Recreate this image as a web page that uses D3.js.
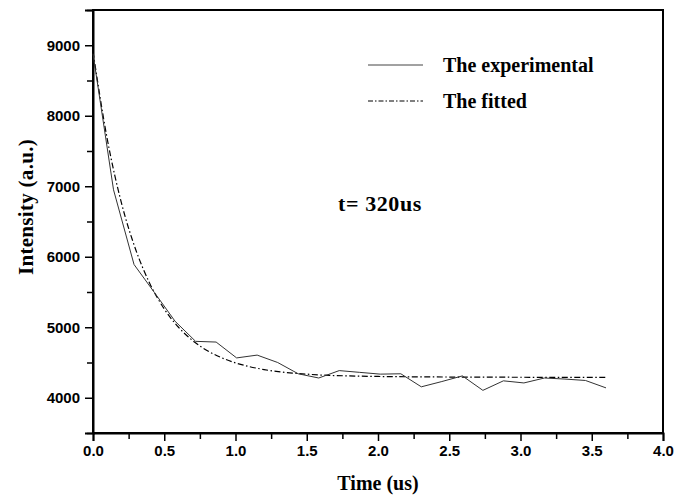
<!DOCTYPE html>
<html>
<head>
<meta charset="utf-8">
<script src="https://cdn.jsdelivr.net/npm/d3@7"></script>
<style>
body { margin: 0; background: #fff; }
svg { display: block; }
</style>
</head>
<body>
<svg id="chart" width="688" height="496"></svg>
<script>
// experimental decay
let expTime = [0.000, 0.144, 0.288, 0.432, 0.576, 0.720, 0.864, 1.008, 1.152, 1.296, 1.440, 1.584, 1.728,
    1.872, 2.016, 2.160, 2.304, 2.448, 2.592, 2.736, 2.880, 3.024, 3.168, 3.312, 3.456, 3.600];
let expValues = [8880, 6950, 5890, 5490, 5085, 4800, 4790, 4565, 4605, 4500, 4340, 4280, 4385,
    4360, 4335, 4340, 4155, 4230, 4310, 4105, 4240, 4210, 4280, 4265, 4245, 4140];

// fitted curve
let fitTime = [0, 0.1, 0.2, 0.3, 0.4, 0.5, 0.6, 0.7, 0.8, 0.9, 1.0, 1.1, 1.2, 1.3, 1.4, 1.5, 1.6,
    1.8, 2.0, 2.4, 2.8, 3.2, 3.6];
let fitValues = [8910, 7670, 6760, 6100, 5615, 5260, 5000, 4810, 4670, 4570, 4495, 4440, 4400, 4370, 4350, 4335, 4322,
    4310, 4302, 4295, 4292, 4290, 4290];

let xTicks = [0, 0.5, 1.0, 1.5, 2.0, 2.5, 3.0, 3.5, 4.0];
let yTicks = [4000, 5000, 6000, 7000, 8000, 9000];
let legendNames = ["The experimental", "The fitted"];

let plotLeft = 93, plotTop = 10, plotRight = 663, plotBottom = 433;
let serif = "'Liberation Serif', 'Times New Roman', serif";
let sans = "'Liberation Sans', Arial, sans-serif";

let svg = d3.select("#chart");

let xScale = d3.scaleLinear()
    .domain([0, 4])
    .range([plotLeft, plotRight]);

let yScale = d3.scaleLinear()
    .domain([3500, 9500])
    .range([plotBottom, plotTop]);

// frame
svg.append("rect")
    .attr("x", plotLeft)
    .attr("y", plotTop)
    .attr("width", plotRight - plotLeft)
    .attr("height", plotBottom - plotTop)
    .style("fill", "none")
    .style("stroke", "#000")
    .style("stroke-width", 2);

// x axis, major then minor ticks
let xAxis = svg.append("g")
    .attr("transform", "translate(0," + plotBottom + ")")
    .call(d3.axisBottom(xScale).tickValues(xTicks).tickSize(8).tickPadding(4)
        .tickFormat(d3.format(".1f")));

svg.append("g")
    .attr("transform", "translate(0," + plotBottom + ")")
    .call(d3.axisBottom(xScale).tickValues(d3.range(0.25, 4, 0.5)).tickSize(6).tickFormat(""))
    .select(".domain").remove();

// y axis
let yAxis = svg.append("g")
    .attr("transform", "translate(" + plotLeft + ",0)")
    .call(d3.axisLeft(yScale).tickValues(yTicks).tickSize(8).tickPadding(5).tickFormat(d3.format("d")));

svg.append("g")
    .attr("transform", "translate(" + plotLeft + ",0)")
    .call(d3.axisLeft(yScale).tickValues([3500, 4500, 5500, 6500, 7500, 8500, 9500]).tickSize(6).tickFormat(""))
    .select(".domain").remove();

svg.selectAll(".domain").style("stroke-width", 2);
svg.selectAll(".tick line").style("stroke-width", 1.5);

xAxis.selectAll("text")
    .style("font-family", sans)
    .style("font-weight", "bold")
    .style("font-size", "15px")
    .style("fill", "#000");

yAxis.selectAll("text")
    .style("font-family", sans)
    .style("font-weight", "bold")
    .style("font-size", "15px")
    .style("fill", "#000");

// axis titles
svg.append("text")
    .attr("x", (plotLeft + plotRight) / 2)
    .attr("y", 490)
    .style("text-anchor", "middle")
    .style("font-family", serif)
    .style("font-weight", "bold")
    .style("font-size", "20px")
    .text("Time (us)");

svg.append("text")
    .attr("transform", "translate(33,207) rotate(-90)")
    .style("text-anchor", "middle")
    .style("font-family", serif)
    .style("font-weight", "bold")
    .style("font-size", "21px")
    .style("letter-spacing", "0.3px")
    .text("Intensity (a.u.)");

// lines
let expLine = d3.line()
    .x((d, i) => xScale(expTime[i]))
    .y(d => yScale(d));

let fitLine = d3.line()
    .x((d, i) => xScale(fitTime[i]))
    .y(d => yScale(d))
    .curve(d3.curveMonotoneX);

svg.append("path")
    .attr("d", fitLine(fitValues))
    .style("fill", "none")
    .style("stroke", "#000")
    .style("stroke-width", 1.2)
    .style("stroke-dasharray", "6,2.5,1.5,2.5");

svg.append("path")
    .attr("d", expLine(expValues))
    .style("fill", "none")
    .style("stroke", "#333")
    .style("stroke-width", 1);

// legend
let legend = svg.append("g");
legendNames.forEach((name, i) => {
    let ly = 65 + i * 36;
    legend.append("line")
        .attr("x1", 368)
        .attr("x2", 423)
        .attr("y1", ly)
        .attr("y2", ly)
        .style("stroke", i == 0 ? "#444" : "#000")
        .style("stroke-width", 1)
        .style("stroke-dasharray", i == 0 ? null : "5,2,1.5,2");
    legend.append("text")
        .attr("x", 443)
        .attr("y", ly + 7)
        .style("font-family", serif)
        .style("font-weight", "bold")
        .style("font-size", "20px")
        .text(name);
});

// lifetime note
svg.append("text")
    .attr("x", 338)
    .attr("y", 211)
    .style("font-family", serif)
    .style("font-weight", "bold")
    .style("font-size", "22px")
    .style("letter-spacing", "0.6px")
    .text("t= 320us");
</script>
</body>
</html>
